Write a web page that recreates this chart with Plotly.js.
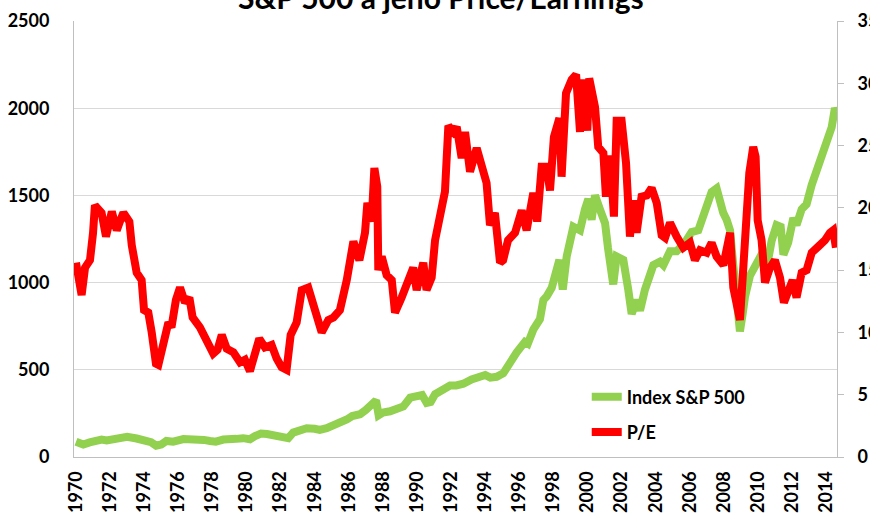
<!DOCTYPE html>
<html>
<head>
<meta charset="utf-8">
<script src="https://cdn.plot.ly/plotly-3.0.1.min.js"></script>
<style>html,body{margin:0;padding:0;background:#fff;}#chart{width:870px;height:516px;}</style>
</head>
<body>
<div id="chart"></div>
<script>
// S&P 500 index (left axis)
const spYears = [1970.0,1970.2,1970.43,1970.8,1971.2,1971.5,1971.8,1972.3,1972.8,1973.0,1973.56,1974.14,1974.4,1974.7,1975.0,1975.3,1975.7,1976.3,1976.8,1977.08,1977.5,1977.86,1978.2,1978.64,1979.0,1979.4,1979.8,1980.2,1980.5,1980.85,1981.2,1981.57,1982.0,1982.45,1982.74,1983.1,1983.53,1984.0,1984.3,1984.7,1985.09,1985.5,1985.88,1986.2,1986.66,1987.0,1987.3,1987.6,1987.75,1988.0,1988.42,1988.8,1989.2,1989.6,1990.0,1990.3,1990.57,1990.8,1991.06,1991.5,1991.94,1992.3,1992.72,1993.2,1993.7,1994.0,1994.3,1994.67,1995.06,1995.3,1995.55,1995.85,1996.33,1996.5,1996.82,1997.21,1997.41,1997.6,1997.9,1998.19,1998.35,1998.55,1998.78,1999.17,1999.56,1999.85,2000.05,2000.24,2000.44,2000.73,2001.03,2001.2,2001.51,2001.71,2002.1,2002.39,2002.59,2002.88,2003.08,2003.37,2003.86,2004.25,2004.45,2004.84,2005.23,2005.72,2006.11,2006.5,2006.89,2007.28,2007.57,2007.77,2007.96,2008.16,2008.36,2008.55,2008.7,2008.94,2009.1,2009.24,2009.53,2009.92,2010.31,2010.5,2010.8,2011.09,2011.33,2011.49,2011.77,2012.07,2012.26,2012.56,2012.85,2013.15,2013.44,2013.73,2014.03,2014.32,2014.51,2014.6];
const spValues = [88,82,72,84,100,100,95,108,118,116,106,97,85,65,72,92,88,103,105,103,98,92,88,100,98,104,108,102,120,135,132,128,118,108,140,150,165,162,155,165,180,190,215,235,245,270,295,325,240,255,262,275,290,340,345,355,310,315,360,380,410,410,420,445,455,470,455,460,480,520,560,600,660,650,730,790,900,920,970,1100,1130,960,1150,1320,1300,1420,1480,1360,1500,1420,1340,1200,990,1150,1130,960,820,900,840,960,1100,1120,1100,1180,1180,1230,1290,1300,1420,1520,1540,1460,1400,1360,1300,1100,900,720,820,920,1040,1100,1180,1080,1240,1330,1320,1160,1230,1370,1330,1420,1450,1560,1650,1720,1800,1890,2000,1980];

// Price/Earnings ratio (right axis)
const peYears = [1970.0,1970.15,1970.33,1970.53,1970.82,1971.0,1971.11,1971.5,1971.76,1972.1,1972.39,1972.6,1972.78,1973.13,1973.27,1973.56,1973.85,1973.99,1974.24,1974.44,1974.69,1974.83,1975.08,1975.42,1975.6,1975.86,1976.1,1976.39,1976.65,1976.84,1977.27,1977.66,1978.05,1978.3,1978.55,1978.84,1979.23,1979.62,1979.91,1980.2,1980.5,1980.75,1981.08,1981.47,1981.77,1982.06,1982.35,1982.59,1982.94,1983.24,1983.62,1984.0,1984.41,1984.8,1985.1,1985.48,1985.88,1986.27,1986.62,1986.95,1987.09,1987.34,1987.5,1987.67,1987.73,1987.93,1988.22,1988.52,1988.71,1989.1,1989.49,1989.78,1989.98,1990.37,1990.56,1990.86,1991.06,1991.35,1991.64,1991.84,1992.13,1992.33,1992.62,1992.82,1993.11,1993.5,1993.79,1994.08,1994.28,1994.57,1994.87,1995.05,1995.34,1995.75,1996.14,1996.43,1996.82,1997.05,1997.31,1997.6,1997.8,1998.03,1998.35,1998.48,1998.74,1999.07,1999.33,1999.56,1999.75,1999.99,2000.1,2000.44,2000.63,2000.93,2001.08,2001.32,2001.55,2001.71,2002.0,2002.26,2002.49,2002.69,2002.88,2003.17,2003.47,2003.76,2004.06,2004.35,2004.55,2004.84,2005.23,2005.62,2006.01,2006.3,2006.6,2006.99,2007.28,2007.57,2007.97,2008.36,2008.55,2008.75,2008.94,2009.1,2009.3,2009.49,2009.72,2009.86,2009.98,2010.21,2010.41,2010.7,2010.99,2011.29,2011.52,2011.77,2012.03,2012.26,2012.56,2012.85,2013.15,2013.54,2013.93,2014.22,2014.41,2014.57];
const peValues = [15.6,14.5,13.0,15.2,15.8,18.0,20.2,19.6,17.7,19.7,18.2,19.0,19.6,18.9,17.0,14.8,14.2,11.8,11.6,10.0,7.5,7.4,9.1,10.8,10.4,12.6,13.6,12.4,12.8,11.2,10.4,9.5,8.3,8.6,9.8,8.7,8.4,7.6,7.8,6.9,8.3,9.5,8.8,9.0,7.9,7.2,7.0,9.8,10.8,13.4,13.6,12.0,10.0,11.0,11.2,11.8,14.2,17.3,15.8,18.0,20.4,18.9,23.2,21.7,15.0,16.1,14.6,14.2,11.6,12.8,14.0,15.2,13.4,15.6,13.4,14.4,17.4,19.3,21.3,26.6,26.1,26.5,24.0,26.1,22.9,24.8,23.3,22.0,18.6,19.6,15.6,15.8,17.4,18.0,19.8,18.2,21.2,18.9,23.3,23.3,21.4,25.7,27.2,22.5,29.2,30.3,30.7,26.1,30.3,26.2,30.4,28.1,24.9,24.4,20.9,24.2,19.3,27.0,27.0,23.6,17.7,20.6,18.0,20.9,21.0,21.6,20.4,17.8,17.6,18.8,17.7,16.8,17.2,15.8,16.6,16.4,17.2,16.1,15.4,18.0,13.6,12.4,11.0,14.4,19.3,22.8,24.9,24.1,19.0,17.4,14.0,15.2,15.8,14.4,12.4,13.4,14.2,12.8,14.8,15.0,16.4,16.9,17.4,18.0,18.2,16.8];

const yearTicks = [1970,1972,1974,1976,1978,1980,1982,1984,1986,1988,1990,1992,1994,1996,1998,2000,2002,2004,2006,2008,2010,2012,2014];
const titleText = 'S&P 500 a jeho Price/Earnings';
const spName = 'Index S&P 500';
const peName = 'P/E';

const FONT = 'Lato, "Open Sans", sans-serif';

const traces = [
  {x: spYears, y: spValues, name: spName, type: 'scatter', mode: 'lines', legendgroup: 'a',
   line: {color: '#92D050', width: 8, shape: 'linear'}, yaxis: 'y'},
  {x: peYears, y: peValues, name: peName, type: 'scatter', mode: 'lines', legendgroup: 'b',
   line: {color: '#FF0000', width: 8, shape: 'linear'}, yaxis: 'y2'}
];

const layout = {
  width: 870, height: 516,
  margin: {l: 74, r: 33, t: 21, b: 59, pad: 0},
  paper_bgcolor: '#ffffff', plot_bgcolor: '#ffffff',
  font: {family: FONT, size: 18, color: '#000000', weight: 700},
  annotations: [{text: titleText, xref: 'paper', yref: 'paper', x: 0.481, y: 1.0545,
                 xanchor: 'center', yanchor: 'middle', showarrow: false,
                 font: {family: FONT, size: 30, color: '#000', weight: 700}}],
  showlegend: true,
  legend: {x: 0.672, y: 0.18, xanchor: 'left', yanchor: 'top', bgcolor: 'rgba(0,0,0,0)',
           font: {family: FONT, size: 18, color: '#000', weight: 700},
           tracegroupgap: 9, traceorder: 'grouped', itemwidth: 30},
  xaxis: {range: [1969.883, 2014.633], tickmode: 'array', tickvals: yearTicks,
          ticktext: yearTicks.map(String), tickangle: -90, showgrid: false, zeroline: false,
          showline: true, linecolor: '#BFBFBF', linewidth: 1, ticks: '', ticklabelstandoff: 6,
          tickfont: {family: FONT, size: 18, color: '#000', weight: 700}},
  yaxis: {range: [0, 2500], dtick: 500, tick0: 0, showgrid: true, gridcolor: '#D9D9D9', gridwidth: 1,
          zeroline: false, showline: true, linecolor: '#BFBFBF', linewidth: 1, ticks: '',
          ticklabelstandoff: 20, tickfont: {family: FONT, size: 18, color: '#000', weight: 700}},
  yaxis2: {range: [0, 35], dtick: 5, tick0: 0, overlaying: 'y', side: 'right', showgrid: false,
           zeroline: false, showline: true, linecolor: '#BFBFBF', linewidth: 1, ticks: 'outside',
           ticklen: 6, tickcolor: '#BFBFBF', ticklabelstandoff: 10,
           tickfont: {family: FONT, size: 18, color: '#000', weight: 700}}
};

Plotly.newPlot('chart', traces, layout, {displayModeBar: false, staticPlot: true});
</script>
</body>
</html>
